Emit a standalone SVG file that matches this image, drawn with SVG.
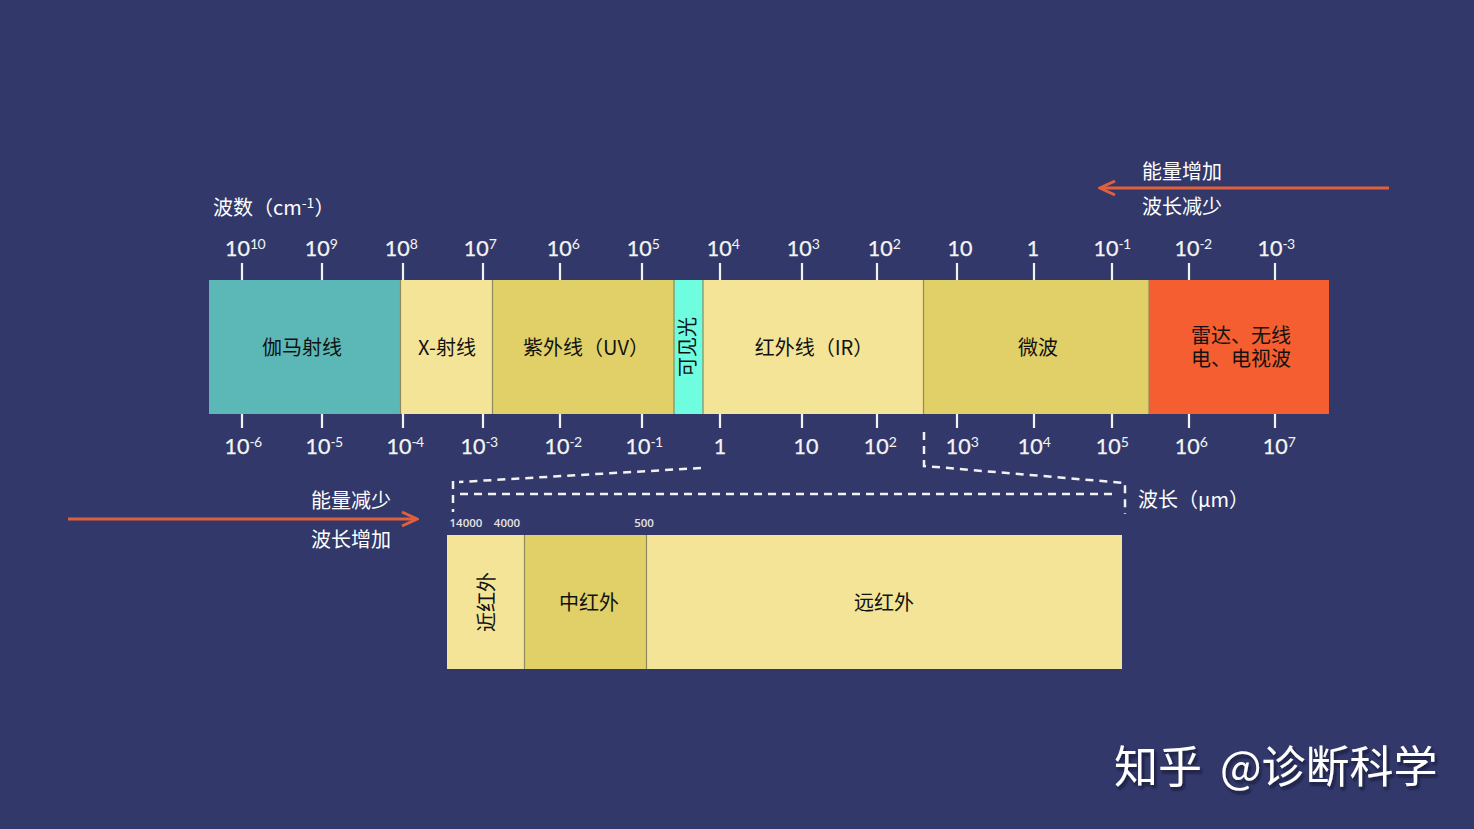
<svg xmlns="http://www.w3.org/2000/svg" width="1474" height="829" viewBox="0 0 1474 829">
<style>
text{font-family:"Noto Sans CJK SC","Noto Sans",sans-serif}
.w{fill:#fff;font-size:20px}
.k{fill:#111;font-size:20px;text-anchor:middle}
.n{fill:#f4f4f4;font-family:"Lato","Noto Sans",sans-serif;font-size:21.500px;text-anchor:middle;stroke:#f4f4f4;stroke-width:.25}
.n tspan{font-size:14px;letter-spacing:-.6px;stroke-width:0}
.s{fill:#e4e4e4;font-family:"Open Sans",sans-serif;font-size:11.500px;font-weight:600;text-anchor:middle}
.t{stroke:#f2f2f2;stroke-width:2.200;fill:none}
.d{stroke:#f2f2f2;stroke-width:2.500;fill:none;stroke-dasharray:8 6}
.a{stroke:#e0603c;stroke-width:3;fill:none}
.b{stroke:#8f8a5c;stroke-width:1.200}
</style>
<defs>
<marker id="h" markerUnits="userSpaceOnUse" viewBox="0 0 20 20" refX="16" refY="10" markerWidth="20" markerHeight="20" orient="auto"><path d="M3 3L18 10L3 17" fill="none" stroke="#e0603c" stroke-width="3"/></marker>
<filter id="sh" x="-5%" y="-20%" width="110%" height="140%"><feDropShadow dx="2" dy="3" stdDeviation="1.500" flood-color="#10142e" flood-opacity=".75"/></filter>
</defs>
<rect width="1474" height="829" fill="#32396a"/>
<g id="bands">
<g id="gamma"><rect x="209" y="280" width="191" height="134" fill="#5cb8b6"/><text class="k" x="302" y="355">伽马射线</text></g>
<g id="xray"><rect x="400" y="280" width="92" height="134" fill="#f4e497"/><text class="k" x="447" y="355">X-射线</text></g>
<g id="uv"><rect x="492" y="280" width="182" height="134" fill="#e0d067"/><text class="k" x="586" y="355">紫外线（UV）</text></g>
<g id="visible"><rect x="674" y="280" width="29" height="134" fill="#6ffde0"/><text class="k" transform="translate(695 347) rotate(-90)">可见光</text></g>
<g id="ir"><rect x="703" y="280" width="220" height="134" fill="#f4e497"/><text class="k" x="814" y="355">红外线（IR）</text></g>
<g id="microwave"><rect x="923" y="280" width="226" height="134" fill="#e0d067"/><text class="k" x="1038" y="355">微波</text></g>
<g id="radio"><rect x="1149" y="280" width="180" height="134" fill="#f45e30"/><text class="k" y="343"><tspan x="1241">雷达、无线</tspan><tspan x="1241" dy="23">电、电视波</tspan></text></g>
<path class="b" d="M400.500 280V414M492.500 280V414M674 280V414M703 280V414M923.500 280V414M1149 280V414"/>
</g>
<g id="ticks">
<path class="t" d="M242 263V280M322 263V280M403 263V280M483 263V280M560 263V280M642 263V280M720 263V280M802 263V280M877 263V280M957 263V280M1034 263V280M1112 263V280M1189 263V280M1275 263V280"/>
<path class="t" d="M242 414V428M322 414V428M403 414V428M483 414V428M560 414V428M642 414V428M720 414V428M802 414V428M877 414V428M957 414V428M1034 414V428M1112 414V428M1189 414V428M1275 414V428"/>
</g>
<g id="top-scale">
<text class="n" x="245" y="256">10<tspan dy="-7">10</tspan></text>
<text class="n" x="321" y="256">10<tspan dy="-7">9</tspan></text>
<text class="n" x="401" y="256">10<tspan dy="-7">8</tspan></text>
<text class="n" x="480" y="256">10<tspan dy="-7">7</tspan></text>
<text class="n" x="563" y="256">10<tspan dy="-7">6</tspan></text>
<text class="n" x="643" y="256">10<tspan dy="-7">5</tspan></text>
<text class="n" x="723" y="256">10<tspan dy="-7">4</tspan></text>
<text class="n" x="803" y="256">10<tspan dy="-7">3</tspan></text>
<text class="n" x="884" y="256">10<tspan dy="-7">2</tspan></text>
<text class="n" x="960" y="256">10</text>
<text class="n" x="1033" y="256">1</text>
<text class="n" x="1112" y="256">10<tspan dy="-7">-1</tspan></text>
<text class="n" x="1193" y="256">10<tspan dy="-7">-2</tspan></text>
<text class="n" x="1276" y="256">10<tspan dy="-7">-3</tspan></text>
</g>
<g id="bottom-scale">
<text class="n" x="243" y="454">10<tspan dy="-7">-6</tspan></text>
<text class="n" x="324" y="454">10<tspan dy="-7">-5</tspan></text>
<text class="n" x="405" y="454">10<tspan dy="-7">-4</tspan></text>
<text class="n" x="479" y="454">10<tspan dy="-7">-3</tspan></text>
<text class="n" x="563" y="454">10<tspan dy="-7">-2</tspan></text>
<text class="n" x="644" y="454">10<tspan dy="-7">-1</tspan></text>
<text class="n" x="720" y="454">1</text>
<text class="n" x="806" y="454">10</text>
<text class="n" x="880" y="454">10<tspan dy="-7">2</tspan></text>
<text class="n" x="962" y="454">10<tspan dy="-7">3</tspan></text>
<text class="n" x="1034" y="454">10<tspan dy="-7">4</tspan></text>
<text class="n" x="1112" y="454">10<tspan dy="-7">5</tspan></text>
<text class="n" x="1191" y="454">10<tspan dy="-7">6</tspan></text>
<text class="n" x="1279" y="454">10<tspan dy="-7">7</tspan></text>
</g>
<g id="connectors">
<path class="a" d="M1389 188H1102" marker-end="url(#h)"/>
<path class="a" d="M68 519H415" marker-end="url(#h)"/>
<path class="d" d="M701 468L459 482"/>
<path class="d" d="M453 481V512"/>
<path class="d" d="M460 494H1118"/>
<path class="d" d="M924 432V466L1125 483V514"/>
</g>
<g id="labels">
<text class="w" x="213" y="215">波数（cm<tspan font-size="14" dy="-7">-1</tspan><tspan dy="7">）</tspan></text>
<text class="w" x="1142" y="179">能量增加</text>
<text class="w" x="1142" y="214">波长减少</text>
<text class="w" x="311" y="508">能量减少</text>
<text class="w" x="311" y="547">波长增加</text>
<text class="w" x="1138" y="507">波长（μm）</text>
<text class="s" x="466" y="527">14000</text>
<text class="s" x="507" y="527">4000</text>
<text class="s" x="644" y="527">500</text>
</g>
<g id="ir-detail">
<g id="near"><rect x="447" y="535" width="77" height="134" fill="#f4e497"/><text class="k" transform="translate(494 602) rotate(-90)">近红外</text></g>
<g id="mid"><rect x="524" y="535" width="123" height="134" fill="#e0d067"/><text class="k" x="589" y="610">中红外</text></g>
<g id="far"><rect x="647" y="535" width="475" height="134" fill="#f4e497"/><text class="k" x="884" y="610">远红外</text></g>
<path class="b" d="M524.500 535V669M646.500 535V669"/>
</g>
<g id="watermark"><text y="783" fill="#fff" font-size="44" filter="url(#sh)"><tspan x="1114">知乎</tspan><tspan x="1220">@诊断科学</tspan></text></g>
</svg>
